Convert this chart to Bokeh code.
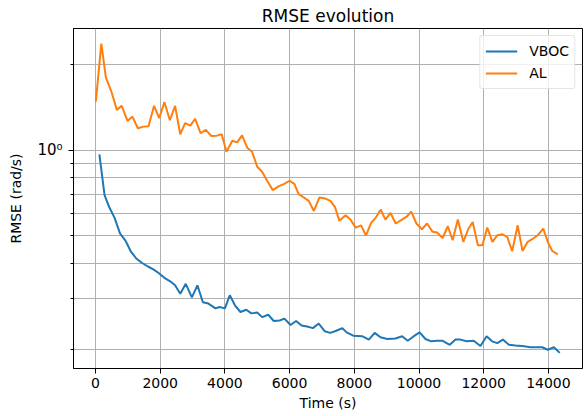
from bokeh.plotting import figure
from bokeh.models import Range1d, FixedTicker, CustomJSTickFormatter, Legend, LegendItem
from bokeh.embed import file_html
from bokeh.resources import INLINE

# ---- data ----
time_vboc = [120, 280, 420, 590, 760, 920, 1090, 1260, 1430, 1620, 1790, 1950, 2130, 2310, 2460,
             2620, 2790, 2980, 3150, 3320, 3490, 3710, 3830, 4000, 4150, 4310, 4480, 4660, 4820,
             5000, 5150, 5340, 5510, 5690, 5840, 6030, 6200, 6370, 6540, 6720, 6900, 7090, 7260,
             7440, 7630, 7760, 7970, 8240, 8450, 8630, 8810, 9020, 9270, 9480, 9650, 9840, 10020,
             10200, 10380, 10560, 10720, 10950, 11130, 11280, 11470, 11690, 11900, 12090, 12260,
             12420, 12590, 12780, 12980, 13190, 13450, 13600, 13810, 13980, 14170, 14350]
rmse_vboc = [0.966, 0.694, 0.632, 0.578, 0.509, 0.482, 0.441, 0.416, 0.402, 0.390, 0.381, 0.370,
             0.356, 0.346, 0.335, 0.313, 0.339, 0.304, 0.335, 0.292, 0.289, 0.278, 0.281, 0.278,
             0.309, 0.285, 0.270, 0.275, 0.267, 0.269, 0.259, 0.264, 0.251, 0.252, 0.256, 0.243,
             0.251, 0.242, 0.240, 0.237, 0.246, 0.231, 0.228, 0.232, 0.237, 0.229, 0.223, 0.222,
             0.216, 0.228, 0.220, 0.217, 0.218, 0.222, 0.214, 0.222, 0.229, 0.217, 0.213, 0.214,
             0.214, 0.207, 0.216, 0.216, 0.213, 0.214, 0.205, 0.222, 0.213, 0.210, 0.216, 0.207,
             0.206, 0.205, 0.203, 0.203, 0.203, 0.199, 0.203, 0.194]

time_al = [10, 180, 320, 490, 660, 810, 990, 1140, 1310, 1480, 1640, 1810, 1970, 2130, 2300, 2460,
           2620, 2770, 2930, 3080, 3250, 3410, 3580, 3750, 3900, 4050, 4230, 4380, 4530, 4690, 4840,
           5000, 5150, 5310, 5480, 5670, 5820, 6000, 6150, 6280, 6440, 6590, 6750, 6920, 7090, 7260,
           7400, 7540, 7730, 7880, 8040, 8210, 8360, 8520, 8660, 8820, 8960, 9120, 9280, 9450, 9610,
           9760, 9920, 10090, 10250, 10420, 10560, 10730, 10890, 11040, 11200, 11370, 11520, 11660,
           11820, 11960, 12110, 12270, 12420, 12580, 12730, 12880, 13050, 13200, 13360, 13530,
           13670, 13840, 13980, 14120, 14290]
rmse_al = [1.479, 2.362, 1.797, 1.604, 1.383, 1.429, 1.265, 1.310, 1.192, 1.208, 1.212, 1.429,
           1.293, 1.472, 1.272, 1.429, 1.136, 1.242, 1.218, 1.286, 1.145, 1.176, 1.120, 1.123,
           1.136, 0.986, 1.078, 1.064, 1.126, 1.019, 0.986, 0.873, 0.839, 0.778, 0.723, 0.747,
           0.759, 0.780, 0.759, 0.700, 0.681, 0.663, 0.611, 0.681, 0.676, 0.663, 0.632, 0.564,
           0.590, 0.570, 0.534, 0.544, 0.501, 0.555, 0.578, 0.618, 0.570, 0.601, 0.552, 0.567,
           0.582, 0.608, 0.552, 0.527, 0.552, 0.516, 0.513, 0.491, 0.540, 0.482, 0.570, 0.476,
           0.527, 0.559, 0.463, 0.463, 0.534, 0.476, 0.502, 0.506, 0.495, 0.441, 0.544, 0.442,
           0.476, 0.489, 0.502, 0.530, 0.476, 0.442, 0.430]

x_ticks = [0, 2000, 4000, 6000, 8000, 10000, 12000, 14000]
y_major_ticks = [1.0]
y_minor_ticks = [0.2, 0.3, 0.4, 0.5, 0.6, 0.7, 0.8, 0.9, 2.0]

FONT = "DejaVu Sans"
GRID = "#b0b0b0"

p = figure(width=588, height=416, output_backend="svg", toolbar_location=None,
           y_axis_type="log", title="RMSE evolution",
           x_range=Range1d(-680, 15054), y_range=Range1d(0.171, 2.67),
           min_border_left=73, min_border_right=6, min_border_bottom=48, min_border_top=0)

p.title.align = "center"
p.title.text_font = FONT
p.title.text_font_size = "17px"
p.title.text_font_style = "normal"
p.title.text_color = "black"
p.title.standoff = 6

p.outline_line_color = "black"
p.outline_line_width = 1
p.background_fill_color = "white"
p.border_fill_color = "white"

xt = FixedTicker(ticks=x_ticks)
yt = FixedTicker(ticks=y_major_ticks, minor_ticks=y_minor_ticks)
p.xaxis.ticker = xt
p.yaxis.ticker = yt
p.xgrid.ticker = xt
p.ygrid.ticker = yt
p.yaxis.formatter = CustomJSTickFormatter(code="return '10\u2070';")

for ax in (p.xaxis, p.yaxis):
    ax.axis_line_color = "black"
    ax.major_tick_line_color = "black"
    ax.minor_tick_line_color = "black"
    ax.major_tick_out = 5
    ax.major_tick_in = 0
    ax.minor_tick_out = 3
    ax.minor_tick_in = 0
    ax.major_label_text_font = FONT
    ax.major_label_text_font_size = "14px"
    ax.major_label_text_color = "black"
    ax.axis_label_text_font = FONT
    ax.axis_label_text_font_size = "14px"
    ax.axis_label_text_font_style = "normal"
    ax.axis_label_text_color = "black"

p.yaxis.major_label_text_font_size = "15px"
p.xaxis.axis_label = "Time (s)"
p.yaxis.axis_label = "RMSE (rad/s)"
p.xaxis.major_label_standoff = 4
p.yaxis.major_label_standoff = 6
p.xaxis.axis_label_standoff = 4
p.yaxis.axis_label_standoff = 10

p.xgrid.grid_line_color = GRID
p.ygrid.grid_line_color = GRID
p.ygrid.minor_grid_line_color = GRID
p.xgrid.grid_line_width = 1
p.ygrid.grid_line_width = 1
p.ygrid.minor_grid_line_width = 1

r1 = p.line(time_vboc, rmse_vboc, line_color="#1f77b4", line_width=2)
r2 = p.line(time_al, rmse_al, line_color="#ff7f0e", line_width=2)

legend = Legend(items=[LegendItem(label="VBOC", renderers=[r1]),
                       LegendItem(label="AL", renderers=[r2])],
                location="top_right")
legend.label_text_font = FONT
legend.label_text_font_size = "14px"
legend.label_text_color = "black"
legend.glyph_width = 32
legend.glyph_height = 20
legend.label_height = 20
legend.label_standoff = 12
legend.spacing = 2
legend.padding = 5
legend.margin = 7
legend.border_line_color = "#cccccc"
legend.border_line_width = 1
legend.background_fill_alpha = 0.8
if "border_radius" in Legend.properties():
    legend.border_radius = 3
p.add_layout(legend)

open("out.html", "w").write(file_html(p, INLINE))
